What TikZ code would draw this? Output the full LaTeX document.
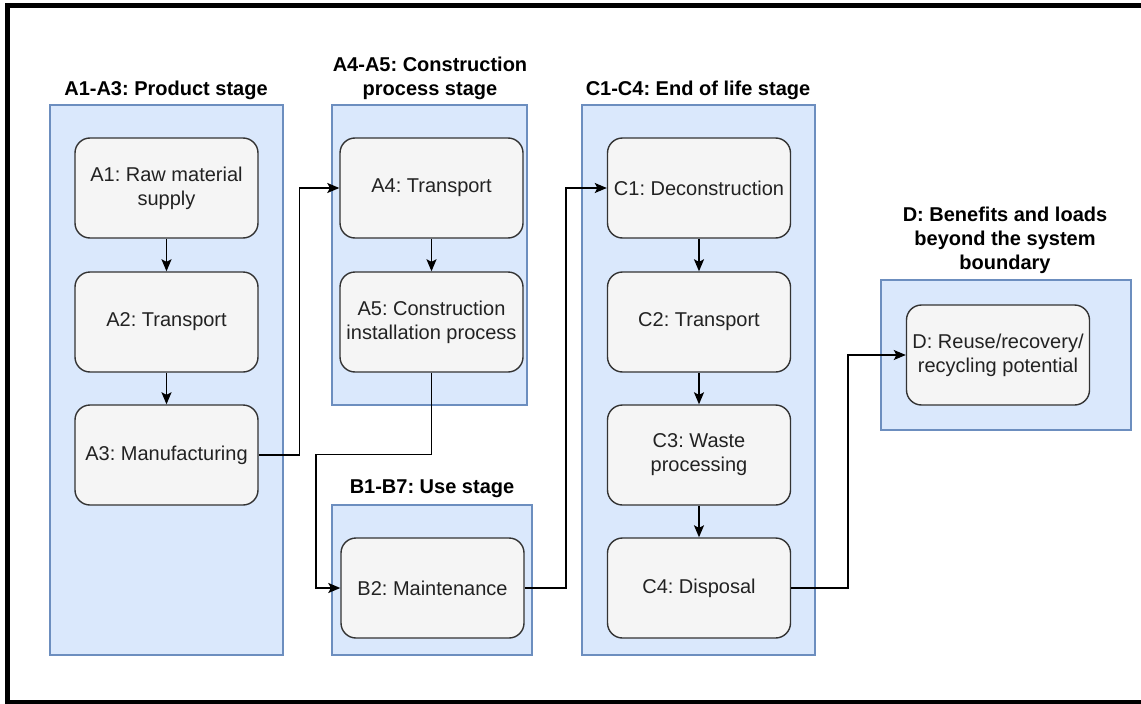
\documentclass[tikz,border=0pt]{standalone}
\usepackage{fontspec}
\setmainfont{Liberation Sans}
\usetikzlibrary{arrows.meta}
\definecolor{grpfill}{HTML}{DAE8FC}
\definecolor{grpline}{HTML}{6C8EBF}
\definecolor{boxfill}{HTML}{F5F5F5}
\definecolor{boxline}{HTML}{333333}
\definecolor{txt}{HTML}{222222}
\frenchspacing
\begin{document}
\begin{tikzpicture}[x=1pt,y=-1pt,
  grp/.style={draw=grpline,fill=grpfill,line width=1.3pt},
  proc/.style={draw=boxline,fill=boxfill,line width=1.4pt,rounded corners=15pt,
    minimum width=183pt,minimum height=100pt,inner sep=0pt,align=center,
    font=\fontsize{20}{24}\selectfont,text=txt},
  ttl/.style={font=\fontsize{20}{24}\selectfont\bfseries,align=center,inner sep=0pt},
  flow/.style={draw=black,line width=1.4pt,-{Stealth[length=12pt,width=10pt,inset=2.5pt]}}]
\useasboundingbox (0,0) rectangle (1141,704);
\draw[line width=4.6pt] (1160,5.5) -- (7.5,5.5) -- (7.5,702.5) -- (1160,702.5);
% groups
\draw[grp] (50,105) rectangle (283,655);
\draw[grp] (332,105) rectangle (527,405);
\draw[grp] (332,505) rectangle (532,655);
\draw[grp] (582,105) rectangle (815,655);
\draw[grp] (881,280) rectangle (1131,430);
% titles
\node[ttl] (tA) at (166,90) {A1-A3: Product stage};
\node[ttl] (tA45) at (430,78) {A4-A5: Construction\\process stage};
\node[ttl] (tB) at (432,489) {B1-B7: Use stage};
\node[ttl] (tC) at (698,90) {C1-C4: End of life stage};
\node[ttl] (tD) at (1005,240) {D: Benefits and loads\\beyond the system\\boundary};
% processes
\node[proc] (a1) at (166.5,188) {A1: Raw material\\supply};
\node[proc] (a2) at (166.5,322) {A2: Transport};
\node[proc] (a3) at (166.5,455) {A3: Manufacturing};
\node[proc] (a4) at (431.5,188) {A4: Transport};
\node[proc] (a5) at (431.5,322) {A5: Construction\\installation process};
\node[proc] (b2) at (432.5,588) {B2: Maintenance};
\node[proc] (c1) at (699,188) {C1: Deconstruction};
\node[proc] (c2) at (699,322) {C2: Transport};
\node[proc] (c3) at (699,455) {C3: Waste\\processing};
\node[proc] (c4) at (699,588) {C4: Disposal};
\node[proc] (d) at (998,355) {D: Reuse/recovery/\\recycling potential};
% connectors
\draw[flow] (a1) -- (a2);
\draw[flow] (a2) -- (a3);
\draw[flow] (a4) -- (a5);
\draw[flow] (c1) -- (c2);
\draw[flow] (c2) -- (c3);
\draw[flow] (c3) -- (c4);
\draw[flow] (a3.east) -- (299.5,455) |- (a4.west);
\draw[flow] (a5.south) |- (316,454.5) |- (b2.west);
\draw[flow] (b2.east) -- (566,588) |- (c1.west);
\draw[flow] (c4.east) -- (848,588) |- (d.west);
\end{tikzpicture}
\end{document}
